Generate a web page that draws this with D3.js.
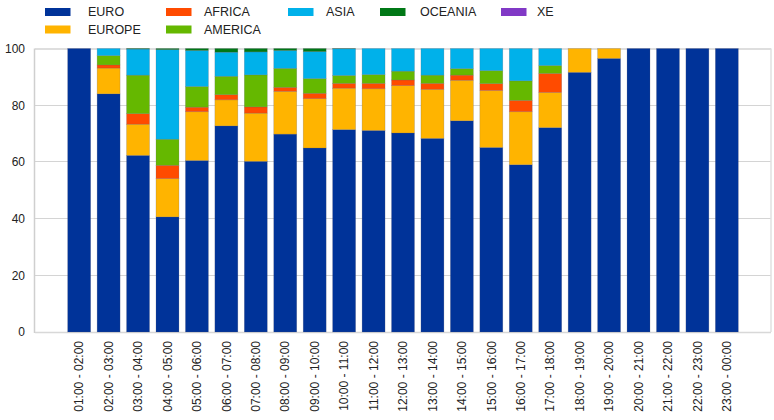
<!DOCTYPE html>
<html>
<head>
<meta charset="utf-8">
<script src="https://cdn.jsdelivr.net/npm/d3@7"></script>
<style>
  html, body { margin: 0; padding: 0; background: #fff; }
  svg { display: block; font-family: "Liberation Sans", Arial, sans-serif; }
</style>
</head>
<body>
<svg id="chart" width="774" height="420"></svg>
<script>
// ---- data ----
const categories = ["01:00 - 02:00","02:00 - 03:00","03:00 - 04:00","04:00 - 05:00","05:00 - 06:00",
  "06:00 - 07:00","07:00 - 08:00","08:00 - 09:00","09:00 - 10:00","10:00 - 11:00","11:00 - 12:00",
  "12:00 - 13:00","13:00 - 14:00","14:00 - 15:00","15:00 - 16:00","16:00 - 17:00","17:00 - 18:00",
  "18:00 - 19:00","19:00 - 20:00","20:00 - 21:00","21:00 - 22:00","22:00 - 23:00","23:00 - 00:00"];
const seriesNames = ["EURO","EUROPE","AFRICA","AMERICA","ASIA","OCEANIA","XE"];
const euro    = [100, 84.0, 62.3, 40.6, 60.5, 72.7, 60.2, 69.8, 64.9, 71.4, 71.1, 70.2, 68.3, 74.5, 65.1, 59.0, 72.1, 91.6, 96.5, 100, 100, 100, 100];
const europe  = [0,   9.1, 11.0, 13.5, 17.2,  9.2, 17.0, 15.1, 17.4, 14.6, 14.7, 16.7, 17.3, 14.3, 20.1, 18.7, 12.4,  8.4,  3.5, 0, 0, 0, 0];
const africa  = [0,   1.1,  3.7,  4.7,  1.6,  1.8,  2.2,  1.4,  1.9,  1.7,  1.9,  2.0,  2.1,  1.8,  2.4,  4.0,  6.7,  0,    0,   0, 0, 0, 0];
const america = [0,   3.3, 13.6,  9.2,  7.3,  6.5, 11.3,  6.7,  5.2,  2.8,  3.1,  3.1,  2.9,  2.3,  4.6,  6.9,  2.8,  0,    0,   0, 0, 0, 0];
const asia    = [0,   2.5,  9.2, 31.6, 12.7,  8.5,  8.1,  6.3,  9.5,  9.4,  9.2,  8.0,  9.4,  7.1,  7.8, 11.4,  6.0,  0,    0,   0, 0, 0, 0];
const oceania = [0,   0,    0.2,  0.4,  0.7,  1.3,  1.2,  0.7,  1.1,  0.1,  0,    0,    0,    0,    0,    0,    0,    0,    0,   0, 0, 0, 0];
const xe      = [0,   0,    0,    0,    0,    0,    0,    0,    0,    0,    0,    0,    0,    0,    0,    0,    0,    0,    0,   0, 0, 0, 0];
const yTicks  = [0, 20, 40, 60, 80, 100];
const colors  = ["#003399","#FFB400","#FF4B00","#65B800","#00B1EA","#007816","#8139C6"];

// ---- build table ----
const valuesBySeries = [euro, europe, africa, america, asia, oceania, xe];
const rows = categories.map((c, i) => {
  const r = { cat: c };
  seriesNames.forEach((s, j) => r[s] = valuesBySeries[j][i]);
  return r;
});
const stacked = d3.stack().keys(seriesNames)(rows);

// ---- layout ----
const svg = d3.select("#chart");
const plot = { left: 35, right: 771, top: 48.5, bottom: 332 };

const x = d3.scaleBand()
  .domain(categories)
  .range([plot.left, plot.right])
  .paddingInner(0.22)
  .paddingOuter(1.11);
const y = d3.scaleLinear().domain([0, 100]).range([plot.bottom, plot.top]);

// gridlines
svg.append("g").selectAll("line").data(yTicks).join("line")
  .attr("x1", plot.left).attr("x2", plot.right)
  .attr("y1", d => y(d)).attr("y2", d => y(d))
  .attr("stroke", d => d === 100 ? "#dedede" : "#d4d4d4")
  .attr("stroke-width", d => d === 100 ? 2 : 1)
  .attr("shape-rendering", "crispEdges");

// frame
svg.append("line").attr("x1", plot.right).attr("x2", plot.right)
  .attr("y1", plot.top).attr("y2", plot.bottom)
  .attr("stroke", "#e0e0e0").attr("stroke-width", 1.5);
svg.append("line").attr("x1", plot.left - 0.5).attr("x2", plot.left - 0.5)
  .attr("y1", plot.top).attr("y2", plot.bottom + 1)
  .attr("stroke", "#cfcfcf").attr("stroke-width", 1.5);
svg.append("line").attr("x1", plot.left).attr("x2", plot.right)
  .attr("y1", plot.bottom + 0.5).attr("y2", plot.bottom + 0.5)
  .attr("stroke", "#d8d8d8").attr("stroke-width", 1.5);

// bars
svg.append("g").selectAll("g").data(stacked).join("g")
  .attr("fill", (d, i) => colors[i])
  .selectAll("rect").data(d => d.filter(p => p[1] - p[0] > 0)).join("rect")
  .attr("x", d => x(d.data.cat))
  .attr("width", x.bandwidth())
  .attr("y", d => y(d[1]))
  .attr("height", d => y(d[0]) - y(d[1]))
  .attr("stroke", "rgba(90,90,110,0.35)")
  .attr("stroke-width", 0.6);

// y axis labels
const yAxis = d3.axisLeft(y).tickValues(yTicks).tickSize(0).tickPadding(0);
const yg = svg.append("g").attr("transform", `translate(${plot.left - 10},0)`).call(yAxis);
yg.select(".domain").remove();
yg.selectAll("text").attr("font-size", 12).attr("fill", "#222")
  .attr("font-family", "'Liberation Sans', Arial, sans-serif");

// x axis labels
const xAxis = d3.axisBottom(x).tickSize(0).tickPadding(0);
const xg = svg.append("g").attr("transform", `translate(0,${plot.bottom})`).call(xAxis);
xg.select(".domain").remove();
xg.selectAll("text")
  .attr("font-size", 12).attr("fill", "#222")
  .attr("font-family", "'Liberation Sans', Arial, sans-serif")
  .attr("text-anchor", "end")
  .attr("dy", "0.35em")
  .attr("transform", "translate(0,9) rotate(-90)")
  .attr("x", 0).attr("y", 0);

// legend
const legendPos = [[45, 8], [45, 25.5], [166, 8], [166, 25.5], [288, 8], [380, 8], [501, 8]];
const textOff = [43, 43, 38, 38, 38, 40, 36];
const lg = svg.append("g").selectAll("g").data(seriesNames).join("g")
  .attr("transform", (d, i) => `translate(${legendPos[i][0]},${legendPos[i][1]})`);
lg.append("rect").attr("width", 25.5).attr("height", 8).attr("fill", (d, i) => colors[i]);
lg.append("text").attr("x", (d, i) => textOff[i]).attr("y", 4).attr("dy", "0.35em")
  .attr("font-size", 12.5).attr("fill", "#222").text(d => d);
</script>
</body>
</html>
